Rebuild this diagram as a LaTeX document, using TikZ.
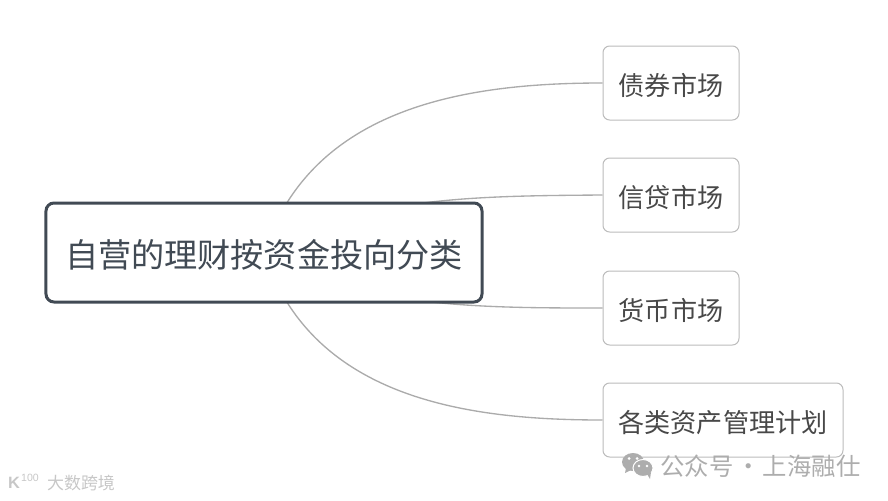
\documentclass[tikz,border=0pt]{standalone}
\usepackage{fontspec}
\usepackage{xcolor}
\usepackage{tikz}
\usetikzlibrary{backgrounds}
\newfontfamily\cjk{Noto Sans CJK SC}
\setmainfont{Liberation Sans}
\definecolor{rootcol}{HTML}{414A54}
\definecolor{leafline}{HTML}{BBBBBB}
\definecolor{leaftext}{HTML}{484848}
\definecolor{linkcol}{HTML}{ABABAB}
\definecolor{markcol}{HTML}{ADADAD}
\tikzset{
  rootbox/.style={draw=rootcol, line width=0.09cm, rounded corners=0.24cm, fill=white, text=rootcol, inner sep=0pt,
    minimum width=13.08cm, minimum height=2.97cm, text height=1.06cm, text depth=0.15cm, font=\cjk\fontsize{28.3}{30}\selectfont},
  leafbox/.style={draw=leafline, line width=0.03cm, rounded corners=0.2cm, fill=white, text=leaftext, inner sep=0pt,
    minimum width=4.08cm, minimum height=2.22cm, text height=0.84cm, text depth=0.12cm, font=\cjk\fontsize{22.3}{24}\selectfont},
  link/.style={draw=linkcol, line width=0.04cm},
  marktext/.style={text=markcol, inner sep=0pt, font=\cjk\fontsize{20.8}{22}\selectfont},
  brandtext/.style={text=black!22, inner sep=0pt},
}
\begin{document}
\begin{tikzpicture}[x=0.03cm, y=-0.03cm]
\useasboundingbox (0,0) rectangle (888,501);
\node[rootbox] (root) at (264,252.5) {自营的理财按资金投向分类};
\node[leafbox] (bond) at (671,83) {债券市场};
\node[leafbox] (credit) at (671,195) {信贷市场};
\node[leafbox] (money) at (671,308) {货币市场};
\node[leafbox, minimum width=7.2cm] (asset) at (723,420) {各类资产管理计划};
\begin{pgfonlayer}{background}
\draw[link] (root.center) .. controls (312,105) and (470,83) .. (bond.west);
\draw[link] (root.center) .. controls (360,196) and (480,196) .. (credit.west);
\draw[link] (root.center) .. controls (360,308) and (480,308) .. (money.west);
\draw[link] (root.center) .. controls (312,400) and (470,420) .. (asset.west);
\end{pgfonlayer}
\node[marktext] (account) at (760.5,466) {公众号\hspace{0.1em}·\hspace{0.1em}上海融仕};
\fill[markcol] (633,462) ellipse (11 and 9);
\fill[markcol] (626,468) -- (625,473) -- (631,470) -- cycle;
\fill[white] (629,458.5) circle (1.5);
\fill[white] (637,458.5) circle (1.5);
\filldraw[markcol, draw=white, line width=0.03cm] (643,468) ellipse (10 and 8.5);
\fill[markcol] (647,474) -- (650,479) -- (651,472) -- cycle;
\fill[white] (639,466) circle (1.3);
\fill[white] (647,466) circle (1.3);
\node[brandtext, font=\cjk\fontsize{14.5}{16}\selectfont] (brand) at (81,483) {大数跨境};
\node[brandtext, font=\bfseries\fontsize{14}{14}\selectfont] (logok) at (14,483) {K};
\node[brandtext, font=\fontsize{9}{9}\selectfont] (logon) at (30,477.5) {100};
\end{tikzpicture}
\end{document}
